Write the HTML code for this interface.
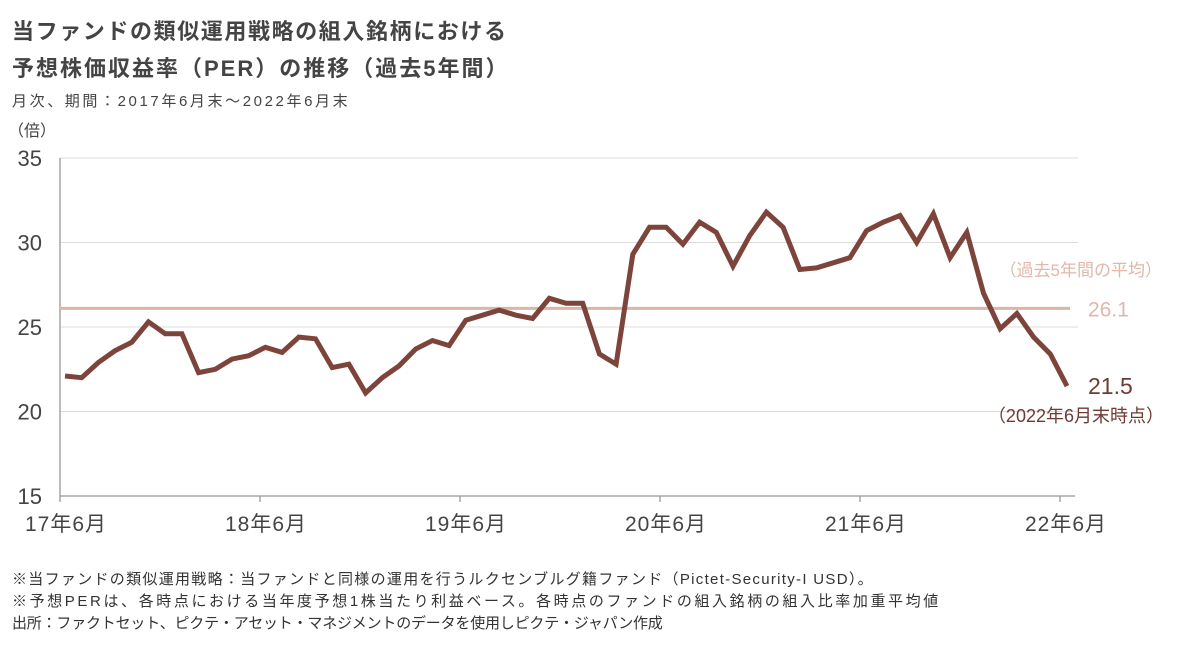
<!DOCTYPE html>
<html><head><meta charset="utf-8">
<style>
body{margin:0;background:#fff;width:1197px;height:648px;overflow:hidden;font-family:"Liberation Sans","Noto Sans CJK JP",sans-serif;color:#333}
.t{position:absolute;white-space:nowrap}
</style></head><body>
<div class="t" style="left:12px;top:14px;font-size:22px;font-weight:bold;color:#444;letter-spacing:1.6px">当ファンドの類似運用戦略の組入銘柄における</div>
<div class="t" style="left:12px;top:51px;font-size:22px;font-weight:bold;color:#444;letter-spacing:2px">予想株価収益率（PER）の推移（過去5年間）</div>
<div class="t" style="left:12px;top:90px;font-size:15px;color:#444;letter-spacing:2.6px">月次、期間：2017年6月末～2022年6月末</div>
<div class="t" style="left:12px;top:568px;font-size:15px;color:#333;letter-spacing:1.3px">※当ファンドの類似運用戦略：当ファンドと同様の運用を行うルクセンブルグ籍ファンド（Pictet-Security-I USD）。</div>
<div class="t" style="left:12px;top:590px;font-size:15px;color:#333;letter-spacing:2.6px">※予想PERは、各時点における当年度予想1株当たり利益ベース。各時点のファンドの組入銘柄の組入比率加重平均値</div>
<div class="t" style="left:12px;top:612px;font-size:15px;color:#333;letter-spacing:-0.2px">出所：ファクトセット、ピクテ・アセット・マネジメントのデータを使用しピクテ・ジャパン作成</div>
<svg id="c" width="1197" height="648" style="position:absolute;left:0;top:0"></svg>
<script>
const xLabels=["17年6月","18年6月","19年6月","20年6月","21年6月","22年6月"];
const yTicks=[15,20,25,30,35];
const perValues=[22.1,22.0,22.9,23.6,24.1,25.3,24.6,24.6,22.3,22.5,23.1,23.3,23.8,23.5,24.4,24.3,22.6,22.8,21.1,22.0,22.7,23.7,24.2,23.9,25.4,25.7,26.0,25.7,25.5,26.7,26.4,26.4,23.4,22.8,29.3,30.9,30.9,29.9,31.2,30.6,28.6,30.4,31.8,30.9,28.4,28.5,28.8,29.1,30.7,31.2,31.6,30.0,31.7,29.1,30.6,27.0,24.9,25.8,24.4,23.4,21.5];
const avgValue=26.1;
const ns="http://www.w3.org/2000/svg";
const svg=document.getElementById('c');
const X0=60,X1=1060,Y0=496,Y1=158;
const y=v=>Y0-(v-15)/(35-15)*(Y0-Y1);
const xm=i=>65+i*(1067-65)/60;
const xt=i=>X0+i*(X1-X0)/5;
function mk(tag,a,txt){const e=document.createElementNS(ns,tag);for(const k in a)e.setAttribute(k,a[k]);if(txt!==undefined)e.textContent=txt;svg.appendChild(e);return e;}
yTicks.forEach(v=>{
 if(v>15){const g=mk('line',{x1:X0,x2:1078,y1:y(v),y2:y(v),stroke:'#dcdcdc','stroke-width':1});
 
 }
 const t=mk('text',{x:42,y:y(v)+8,'text-anchor':'end','font-size':22,fill:'#444'},v);
 
 
});
const yu=mk('text',{x:8,y:136,'font-size':16,fill:'#444'},'（倍）');


const ya=mk('line',{x1:X0,x2:X0,y1:Y1,y2:Y0,stroke:'#999','stroke-width':1.3});


const xa=mk('line',{x1:X0,x2:1075,y1:Y0,y2:Y0,stroke:'#999','stroke-width':1.3});


xLabels.forEach((l,i)=>{
 mk('line',{x1:xt(i),x2:xt(i),y1:Y0,y2:Y0+6,stroke:'#999','stroke-width':1.3});
 const t=mk('text',{x:xt(i)+6,y:531,'text-anchor':'middle','font-size':21,fill:'#444','letter-spacing':1},l);
 
 
});
const av=mk('line',{x1:X0,x2:1070,y1:y(avgValue),y2:y(avgValue),stroke:'#dbb5a8','stroke-width':3});


const al=mk('text',{x:1162,y:276,'text-anchor':'end','font-size':17,fill:'#e0b8aa'},'（過去5年間の平均）');


const avl=mk('text',{x:1088,y:y(avgValue)+8,'font-size':21,fill:'#e0b8aa'},avgValue.toFixed(1));


const pts=perValues.map((v,i)=>xm(i).toFixed(1)+','+y(v).toFixed(1)).join(' ');
const pl=mk('polyline',{points:pts,fill:'none',stroke:'#7d443b','stroke-width':5,'stroke-linejoin':'miter'});


const last=perValues[perValues.length-1];
const lv=mk('text',{x:1088,y:y(last)+8,'font-size':23,fill:'#6e3a33'},last.toFixed(1));


const ll=mk('text',{x:1164,y:422,'text-anchor':'end','font-size':18,fill:'#6e3a33'},'（2022年6月末時点）');


</script>
</body></html>
